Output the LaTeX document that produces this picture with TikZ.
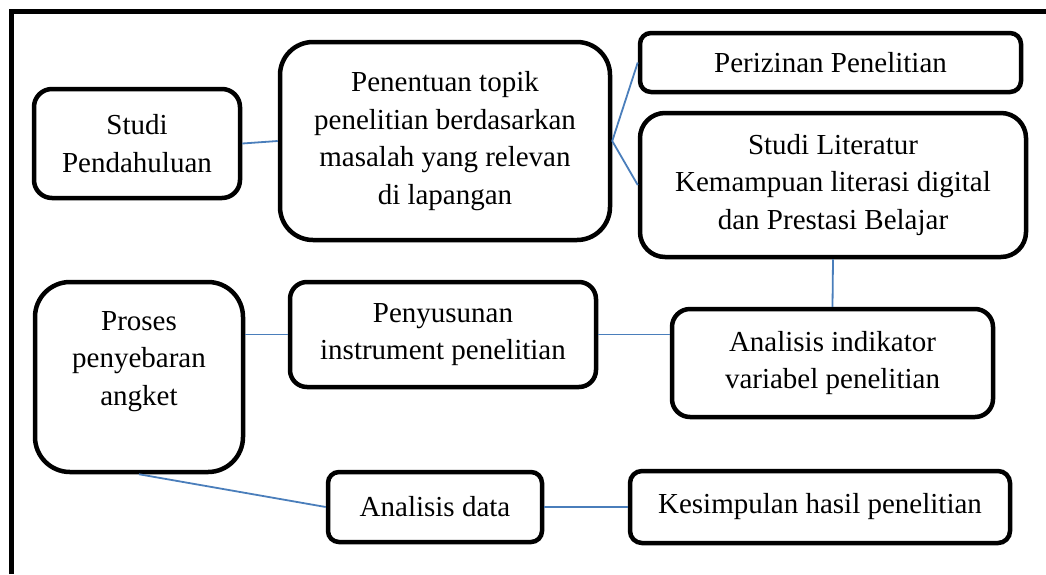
\documentclass[tikz,border=0pt]{standalone}
\usepackage{fontspec}
\setmainfont{Liberation Serif}
\begin{document}
\begin{tikzpicture}[x=1pt,y=-1pt,
  box/.style={draw=black,line width=4.5pt,rectangle,inner sep=0pt,align=center,
    font=\fontsize{29}{37.5}\selectfont,fill=white},
  link/.style={draw={rgb,255:red,74;green,126;blue,187},line width=1.8pt}]
\useasboundingbox (0,0) rectangle (1046,574);
\draw[line width=4.5pt] (11.7,574) -- (11.7,11.7) -- (1046,11.7);
% boxes
\node[box,rounded corners=18pt,minimum width=206pt,minimum height=109pt] (sp) at (137,143.5) {Studi\\Pendahuluan};
\node[box,rounded corners=33pt,minimum width=330pt,minimum height=198pt] (pt) at (445,141) {Penentuan topik\\penelitian berdasarkan\\masalah yang relevan\\di lapangan};
\node[box,rounded corners=11pt,minimum width=381pt,minimum height=59pt] (pz) at (830.5,62.5) {Perizinan Penelitian};
\node[box,rounded corners=25pt,minimum width=386pt,minimum height=144pt] (sl) at (833,185) {Studi Literatur\\Kemampuan literasi digital\\dan Prestasi Belajar};
\node[box,rounded corners=35pt,minimum width=208pt,minimum height=190pt] (pa) at (139,377) {Proses\\penyebaran\\angket\\ };
\node[box,rounded corners=17pt,minimum width=306pt,minimum height=105pt] (pi) at (443,334.5) {Penyusunan\\instrument penelitian};
\node[box,rounded corners=18pt,minimum width=321pt,minimum height=108pt] (ai) at (832.5,363) {Analisis indikator\\variabel penelitian};
\node[box,rounded corners=11pt,minimum width=214pt,minimum height=70pt] (ad) at (435,507) {Analisis data};
\node[box,rounded corners=12pt,minimum width=380pt,minimum height=72pt] (ks) at (820,507) {Kesimpulan hasil penelitian};
% connectors
\draw[link] (sp.east) -- (pt.west);
\draw[link] (pz.west) -- (pt.east) -- (sl.west);
\draw[link] (sl.south) -- (ai.north);
\draw[link] (pi.west) -- (pi.west -| pa.east);
\draw[link] (pi.east) -- (pi.east -| ai.west);
\draw[link] (pa.south) -- (ad.west);
\draw[link] (ad.east) -- (ks.west);
\end{tikzpicture}
\end{document}
